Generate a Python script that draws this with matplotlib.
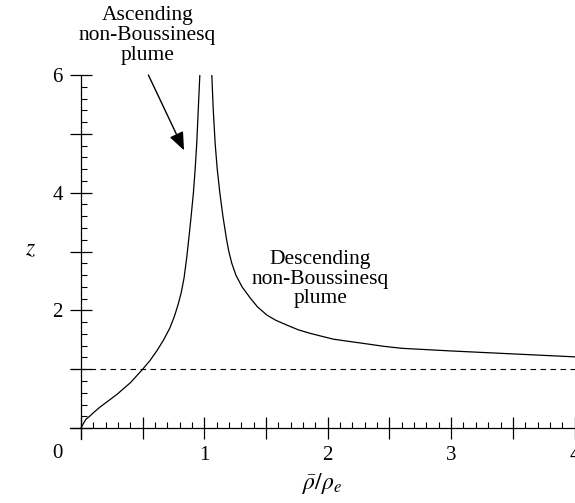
import matplotlib
matplotlib.use('Agg')
import matplotlib.pyplot as plt
from matplotlib.ticker import MultipleLocator, FixedLocator, FixedFormatter

# ascending branch (rho/rho_e < 1)
asc_x = [0.0, 0.02, 0.04, 0.07, 0.10, 0.15, 0.22, 0.29, 0.40, 0.50, 0.56, 0.62,
         0.67, 0.72, 0.757, 0.787, 0.812, 0.835, 0.857, 0.875, 0.89, 0.911, 0.925,
         0.938, 0.95, 0.963]
asc_z = [0.0, 0.08, 0.15, 0.20, 0.26, 0.35, 0.46, 0.57, 0.77, 1.00, 1.15, 1.33,
         1.50, 1.70, 1.90, 2.10, 2.30, 2.55, 2.90, 3.25, 3.55, 4.00, 4.40,
         4.84, 5.40, 6.00]

# descending branch (rho/rho_e > 1)
desc_x = [1.06, 1.072, 1.087, 1.104, 1.125, 1.15, 1.18, 1.198, 1.222, 1.255, 1.305,
          1.375, 1.43, 1.506, 1.58, 1.668, 1.76, 1.857, 1.95, 2.046, 2.18,
          2.317, 2.45, 2.60, 3.00, 3.50, 4.00]
desc_z = [6.00, 5.40, 4.84, 4.40, 4.00, 3.60, 3.20, 3.00, 2.80, 2.60, 2.40,
          2.20, 2.06, 1.92, 1.83, 1.75, 1.67, 1.61, 1.56, 1.51, 1.47,
          1.43, 1.39, 1.355, 1.31, 1.26, 1.21]

x_labels = ['', '', '1', '', '2', '', '3', '', '4']
y_labels = ['', '', '2', '', '4', '', '6']

plt.rcParams['font.family'] = 'Liberation Serif'
plt.rcParams['mathtext.fontset'] = 'stix'

fig = plt.figure(figsize=(5.75, 5.03), dpi=100)
ax = fig.add_axes([0.1216, 0.1268, 0.8776, 0.7241])

ax.plot(asc_x, asc_z, color='black', lw=0.9)
ax.plot(desc_x, desc_z, color='black', lw=0.9)
ax.axhline(1.0, color='black', lw=0.8, ls=(0, (5, 4)))

ax.set_xlim(-0.09, 4.0)
ax.set_ylim(-0.19, 6.0)

for s in ['top', 'right']:
    ax.spines[s].set_visible(False)
ax.spines['left'].set_position(('data', 0))
ax.spines['bottom'].set_position(('data', 0))
ax.spines['left'].set_linewidth(0.9)
ax.spines['bottom'].set_linewidth(0.9)

ax.xaxis.set_major_locator(FixedLocator([0.5 * i for i in range(9)]))
ax.xaxis.set_major_formatter(FixedFormatter(x_labels))
ax.xaxis.set_minor_locator(MultipleLocator(0.1))
ax.yaxis.set_major_locator(FixedLocator(list(range(7))))
ax.yaxis.set_major_formatter(FixedFormatter(y_labels))
ax.yaxis.set_minor_locator(MultipleLocator(0.2))

ax.tick_params(which='major', direction='inout', length=16, width=0.9,
               labelsize=15, pad=5)
ax.tick_params(which='minor', direction='in', length=4, width=0.8)

# shared origin label
ax.text(-0.195, -0.43, '0', fontsize=15, ha='center', va='center', clip_on=False)

ax.set_xlabel(r'$\bar{\rho}/\rho_e$', fontsize=17, labelpad=4)
ax.text(-0.41, 3.03, '$z$', fontsize=17, ha='center', va='center', clip_on=False)

ax.text(0.54, 6.17, 'Ascending\nnon-Boussinesq\nplume', ha='center', va='bottom',
        fontsize=15.5, linespacing=1.08, clip_on=False)
ax.annotate('', xy=(0.835, 4.72), xytext=(0.546, 6.0), annotation_clip=False,
            arrowprops=dict(arrowstyle='-|>,head_length=1.1,head_width=0.45',
                            color='black', lw=1.0, shrinkA=0, shrinkB=0))
ax.text(1.94, 2.53, 'Descending\nnon-Boussinesq\nplume', ha='center', va='center',
        fontsize=15.5, linespacing=1.05)

fig.savefig('out.png', dpi=100)
